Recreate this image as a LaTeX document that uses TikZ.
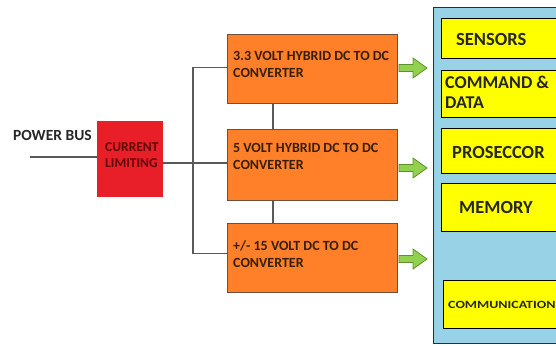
\documentclass[tikz,border=0pt]{standalone}
\usepackage{fontspec}
\setmainfont{Carlito}
\definecolor{convfill}{RGB}{255,128,40}
\definecolor{convdraw}{RGB}{110,80,60}
\definecolor{convtext}{RGB}{55,30,10}
\definecolor{limfill}{RGB}{232,30,40}
\definecolor{limtext}{RGB}{95,10,10}
\definecolor{panelfill}{RGB}{152,210,230}
\definecolor{paneldraw}{RGB}{40,45,55}
\definecolor{unitfill}{RGB}{255,255,0}
\definecolor{arrfill}{RGB}{146,208,80}
\definecolor{arrdraw}{RGB}{95,145,40}
\definecolor{wire}{RGB}{90,90,90}
\tikzset{
  convbox/.style={draw=convdraw,line width=0.8pt,fill=convfill,anchor=north west,minimum width=170pt,minimum height=69pt,inner sep=0pt},
  convlabel/.style={anchor=north west,text=convtext,font=\bfseries\fontsize{14}{17}\selectfont,align=left,inner sep=0pt},
  limbox/.style={fill=limfill,anchor=north west,minimum width=66pt,minimum height=76pt,inner sep=0pt},
  unitbox/.style={draw=black,line width=1.1pt,fill=unitfill,anchor=north west,minimum width=130pt,inner sep=0pt},
  unitlabel/.style={anchor=west,inner sep=0pt,font=\bfseries\fontsize{18.5}{20}\selectfont,text=black!85},
  wireline/.style={draw=wire,line width=1.2pt},
  greenarrow/.style={fill=arrfill,draw=arrdraw,line width=0.8pt,line join=miter}
}
\begin{document}
\begin{tikzpicture}[x=1pt,y=-1pt]
\useasboundingbox (0,0) rectangle (556,345);
\clip (0,0) rectangle (556,345);
% power bus
\node[anchor=west,inner sep=0pt,font=\bfseries\fontsize{15.5}{16}\selectfont,text=black!85] (pbl) at (13,135) {POWER BUS};
\node[limbox] (cl) at (97,121) {};
\node[anchor=north west,inner sep=0pt,align=left,text=limtext,font=\bfseries\fontsize{13.5}{16}\selectfont] (clt) at (105,142) {CURRENT\\LIMITING};
\coordinate (pb) at (30,157);
\draw[wireline] (pb) -- (pb -| cl.west);
% converters
\node[convbox] (c1) at (227,34) {};
\node[convbox,minimum height=71pt] (c2) at (227,129) {};
\node[convbox] (c3) at (227,223) {};
\node[convlabel] (c1t) at (233,51) {3.3 VOLT HYBRID DC TO DC\\CONVERTER};
\node[convlabel] (c2t) at (233,143) {5 VOLT HYBRID DC TO DC\\CONVERTER};
\node[convlabel] (c3t) at (233,240) {+/- 15 VOLT DC TO DC\\CONVERTER};
% wiring
\coordinate (j) at (193,163);
\coordinate (vx) at (273,0);
\draw[wireline] (cl.east |- j) -- (c2.west |- j);
\draw[wireline] ([yshift=1.5pt]c1.west) -| (j) |- ([yshift=4.5pt]c3.west);
\draw[wireline] (c1.south -| vx) -- (c2.north -| vx);
\draw[wireline] (c2.south -| vx) -- (c3.north -| vx);
% panel
\node[draw=paneldraw,line width=1.1pt,fill=panelfill,anchor=north west,minimum width=140pt,minimum height=336pt,inner sep=0pt] (panel) at (433,7) {};
\node[unitbox,minimum height=40pt] (u1) at (441,18) {};
\node[unitbox,minimum height=47pt] (u2) at (441,70) {};
\node[unitbox,minimum height=45pt] (u3) at (441,128) {};
\node[unitbox,minimum height=48pt] (u4) at (441,183) {};
\node[unitbox,minimum height=48pt] (u5) at (443,280) {};
\node[unitlabel] (u1t) at (456,39) {SENSORS};
\node[unitlabel,anchor=north west,align=left,font=\bfseries\fontsize{18}{20}\selectfont] (u2t) at (445,76) {COMMAND \&\\DATA};
\node[unitlabel] (u3t) at (452,152) {PROSECCOR};
\node[unitlabel] (u4t) at (459,207) {MEMORY};
\node[unitlabel,font=\bfseries\fontsize{11}{12}\selectfont] (u5t) at (448,305) {\scalebox{1.27}[1]{COMMUNICATION}};
% green arrows
\foreach \yy in {68,168,259}{
  \draw[greenarrow] (399,\yy-3.5) -- (413,\yy-3.5) -- (413,\yy-10) -- (427,\yy) -- (413,\yy+10) -- (413,\yy+3.5) -- (399,\yy+3.5) -- cycle;
}
\end{tikzpicture}
\end{document}
